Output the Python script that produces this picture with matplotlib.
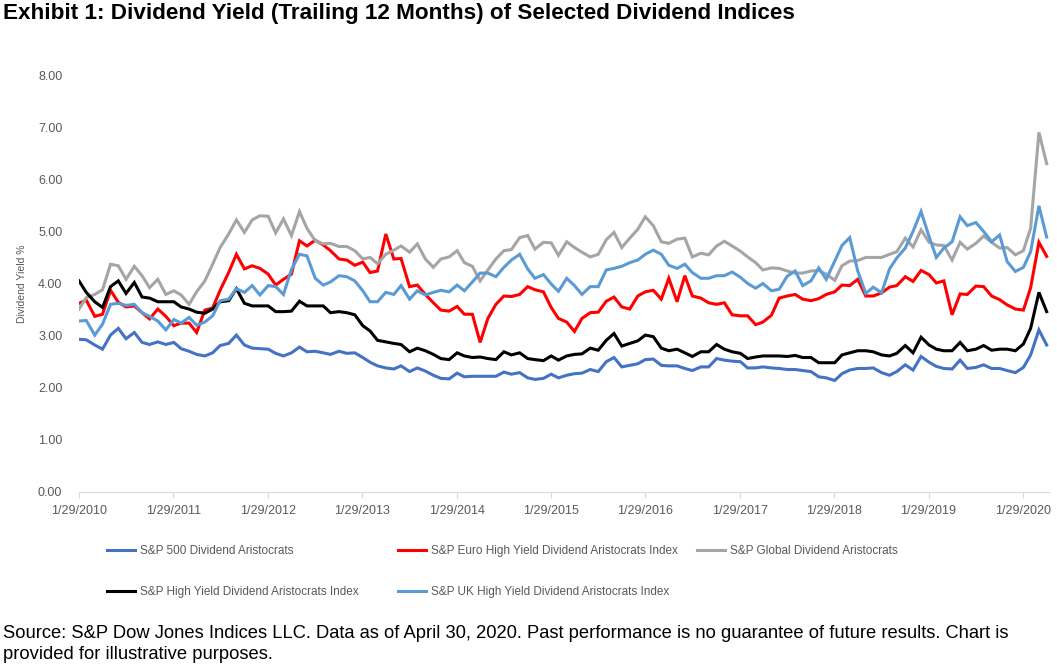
import pandas as pd
import matplotlib
matplotlib.use('Agg')
from matplotlib import pyplot as plt

plt.rcParams['font.family'] = ['Liberation Sans', 'DejaVu Sans']

# month-end dates, Jan 2010 .. Apr 2020
dates = pd.date_range('2010-01-29', '2020-04-30', freq='BME')

sp500_aristocrats = [
    2.93, 2.92, 2.82, 2.74, 3.01, 3.14, 2.94, 3.06, 2.87, 2.83, 2.88, 2.83, 2.87, 2.75, 2.70, 2.64, 2.61, 2.67, 2.81, 2.85,
    3.01, 2.82, 2.76, 2.75, 2.74, 2.66, 2.61, 2.67, 2.78,
    2.69, 2.70, 2.67, 2.64, 2.70, 2.66, 2.67, 2.58, 2.49, 2.42, 2.38, 2.36, 2.42, 2.31, 2.38, 2.32, 2.24, 2.18, 2.17, 2.28,
    2.21, 2.22, 2.22, 2.22, 2.22, 2.30, 2.26, 2.29, 2.19, 2.16,
    2.18, 2.26, 2.19, 2.24, 2.27, 2.28, 2.35, 2.31, 2.50, 2.58, 2.40, 2.43, 2.46, 2.54, 2.55, 2.43, 2.42, 2.42, 2.37, 2.33,
    2.40, 2.40, 2.56, 2.53, 2.51, 2.50, 2.38, 2.38, 2.40, 2.38, 2.37,
    2.35, 2.35, 2.33, 2.31, 2.21, 2.19, 2.14, 2.27, 2.34, 2.37, 2.37, 2.38,
    2.29, 2.24, 2.31, 2.44, 2.34, 2.60, 2.49, 2.41, 2.37, 2.36, 2.53, 2.37, 2.39, 2.44, 2.37, 2.37, 2.33, 2.29, 2.39, 2.63,
    3.11, 2.82]

euro_high_yield = [
    3.62, 3.68, 3.37, 3.41, 3.87, 3.64, 3.55, 3.57, 3.44, 3.32, 3.51, 3.37, 3.19, 3.24, 3.24, 3.06, 3.49, 3.53, 3.87, 4.21,
    4.56, 4.28, 4.34, 4.29, 4.18, 3.97, 4.08, 4.18, 4.82,
    4.72, 4.83, 4.74, 4.63, 4.47, 4.45, 4.35, 4.41, 4.21, 4.24, 4.95, 4.47, 4.48, 3.94, 3.97, 3.79, 3.63, 3.49, 3.47, 3.56,
    3.41, 3.41, 2.87, 3.33, 3.60, 3.76, 3.75, 3.79, 3.94, 3.88,
    3.84, 3.54, 3.33, 3.26, 3.08, 3.33, 3.44, 3.45, 3.66, 3.74, 3.55, 3.51, 3.76, 3.84, 3.87, 3.70, 4.10, 3.65, 4.15, 3.76,
    3.72, 3.63, 3.60, 3.63, 3.40, 3.38, 3.38, 3.21, 3.26, 3.39, 3.72,
    3.76, 3.79, 3.70, 3.67, 3.71, 3.79, 3.84, 3.97, 3.96, 4.08, 3.76, 3.76,
    3.82, 3.93, 3.96, 4.13, 4.04, 4.25, 4.17, 4.01, 4.05, 3.40, 3.80, 3.79, 3.95, 3.94, 3.76, 3.69, 3.59, 3.51, 3.49, 3.92,
    4.79, 4.52]

global_aristocrats = [
    3.51, 3.73, 3.79, 3.88, 4.37, 4.34, 4.08, 4.33, 4.15, 3.92, 4.08, 3.79, 3.86, 3.78, 3.60, 3.84, 4.05, 4.37, 4.69, 4.95,
    5.22, 4.98, 5.22, 5.30, 5.29, 4.97, 5.24, 4.92, 5.38,
    5.06, 4.82, 4.76, 4.77, 4.71, 4.71, 4.63, 4.47, 4.50, 4.38, 4.56, 4.64, 4.72, 4.60, 4.76, 4.47, 4.31, 4.47, 4.51, 4.63,
    4.40, 4.33, 4.05, 4.26, 4.47, 4.63, 4.65, 4.88, 4.92, 4.66,
    4.79, 4.78, 4.54, 4.80, 4.69, 4.60, 4.51, 4.56, 4.84, 4.98, 4.69, 4.87, 5.04, 5.28, 5.11, 4.80, 4.77, 4.85, 4.87, 4.51,
    4.58, 4.55, 4.72, 4.81, 4.72, 4.62, 4.51, 4.40, 4.26, 4.30, 4.29,
    4.24, 4.20, 4.20, 4.24, 4.25, 4.18, 4.06, 4.34, 4.43, 4.44, 4.50, 4.50,
    4.50, 4.56, 4.61, 4.87, 4.70, 5.03, 4.79, 4.74, 4.73, 4.45, 4.79, 4.66, 4.77, 4.91, 4.79, 4.68, 4.69, 4.55, 4.63, 5.06,
    6.90, 6.30]

high_yield_aristocrats = [
    4.05, 3.83, 3.65, 3.54, 3.94, 4.05, 3.81, 4.02, 3.74, 3.72, 3.65, 3.65, 3.65, 3.55, 3.51, 3.45, 3.43, 3.51, 3.65, 3.67,
    3.90, 3.62, 3.57, 3.57, 3.57, 3.46, 3.46, 3.47, 3.66,
    3.57, 3.57, 3.57, 3.44, 3.46, 3.44, 3.40, 3.19, 3.09, 2.91, 2.88, 2.85, 2.83, 2.69, 2.76, 2.71, 2.64, 2.56, 2.54, 2.67,
    2.61, 2.58, 2.59, 2.56, 2.54, 2.69, 2.63, 2.67, 2.56, 2.54,
    2.52, 2.61, 2.53, 2.61, 2.64, 2.65, 2.76, 2.72, 2.91, 3.04, 2.80, 2.85, 2.90, 3.01, 2.98, 2.76, 2.71, 2.74, 2.67, 2.60,
    2.69, 2.69, 2.83, 2.74, 2.69, 2.66, 2.56, 2.59, 2.61, 2.61, 2.61,
    2.60, 2.62, 2.58, 2.58, 2.48, 2.48, 2.48, 2.63, 2.67, 2.71, 2.71, 2.69,
    2.63, 2.61, 2.66, 2.81, 2.67, 2.97, 2.82, 2.74, 2.71, 2.71, 2.87, 2.71, 2.74, 2.81, 2.72, 2.74, 2.74, 2.71, 2.84, 3.14,
    3.83, 3.46]

uk_high_yield = [
    3.28, 3.29, 3.01, 3.22, 3.60, 3.62, 3.58, 3.60, 3.44, 3.37, 3.28, 3.11, 3.31, 3.24, 3.35, 3.20, 3.26, 3.38, 3.67, 3.70,
    3.90, 3.83, 3.96, 3.78, 3.96, 3.94, 3.79, 4.27, 4.56,
    4.53, 4.10, 3.97, 4.03, 4.15, 4.13, 4.05, 3.86, 3.65, 3.65, 3.83, 3.79, 3.96, 3.70, 3.86, 3.78, 3.83, 3.87, 3.84, 3.97,
    3.86, 4.03, 4.20, 4.20, 4.13, 4.31, 4.45, 4.56, 4.28, 4.10,
    4.17, 3.99, 3.85, 4.10, 3.96, 3.79, 3.94, 3.94, 4.26, 4.29, 4.33, 4.40, 4.45, 4.56, 4.64, 4.56, 4.35, 4.29, 4.37, 4.21,
    4.10, 4.10, 4.15, 4.15, 4.22, 4.12, 4.00, 3.91, 4.00, 3.86, 3.89,
    4.14, 4.24, 3.96, 4.05, 4.30, 4.08, 4.43, 4.73, 4.88, 4.24, 3.81, 3.93,
    3.82, 4.28, 4.49, 4.68, 5.00, 5.38, 4.90, 4.50, 4.68, 4.80, 5.28, 5.11, 5.17, 5.00, 4.80, 4.93, 4.42, 4.23, 4.31, 4.61,
    5.49, 4.89]

series_names = ['S&P 500 Dividend Aristocrats',
                'S&P Euro High Yield Dividend Aristocrats Index',
                'S&P Global Dividend Aristocrats',
                'S&P High Yield Dividend Aristocrats Index',
                'S&P UK High Yield Dividend Aristocrats Index']
series_colors = ['#4472C4', '#FF0000', '#A5A5A5', '#000000', '#5B9BD5']
series_values = [sp500_aristocrats, euro_high_yield, global_aristocrats,
                 high_yield_aristocrats, uk_high_yield]

tick_dates = pd.to_datetime(['2010-01-29', '2011-01-29', '2012-01-29', '2013-01-29', '2014-01-29', '2015-01-29',
                             '2016-01-29', '2017-01-29', '2018-01-29', '2019-01-29', '2020-01-29'])
tick_labels = ['1/29/2010', '1/29/2011', '1/29/2012', '1/29/2013', '1/29/2014', '1/29/2015',
               '1/29/2016', '1/29/2017', '1/29/2018', '1/29/2019', '1/29/2020']
y_ticks = [0, 1, 2, 3, 4, 5, 6, 7, 8]

grey = '#595959'

fig = plt.figure(figsize=(10.57, 6.67), dpi=100)
ax = fig.add_axes([79/1057, 1 - 492/667, (1049 - 79)/1057, (492 - 75)/667])

handles = []
for name, color, vals in zip(series_names, series_colors, series_values):
    h, = ax.plot(dates, vals, color=color, lw=2.2, label=name, solid_joinstyle='miter')
    handles.append(h)

ax.set_xlim(pd.Timestamp('2010-01-29'), pd.Timestamp('2020-05-09'))
ax.set_ylim(0, 8)
ax.set_yticks(y_ticks)
ax.set_yticklabels(['%.2f' % v for v in y_ticks])
ax.set_xticks(tick_dates)
ax.set_xticklabels(tick_labels)
ax.tick_params(axis='y', length=0, pad=12, labelsize=9, labelcolor=grey)
ax.tick_params(axis='x', length=4, width=0.8, color='#D9D9D9', pad=5, labelsize=9, labelcolor=grey)
for s in ['top', 'right', 'left']:
    ax.spines[s].set_visible(False)
ax.spines['bottom'].set_color('#D9D9D9')
ax.spines['bottom'].set_linewidth(0.8)
ax.set_ylabel('Dividend Yield %', fontsize=7.5, color=grey, labelpad=8)

fig.text(0.003, 1 - 19.5/667, 'Exhibit 1: Dividend Yield (Trailing 12 Months) of Selected Dividend Indices',
         fontsize=16.2, fontweight='bold', va='baseline', ha='left')

# legend, laid out in Excel-style columns
columns = [([0, 3], 107), ([1, 4], 398), ([2], 697)]
for idx, xpx in columns:
    leg = fig.legend([handles[i] for i in idx], [series_names[i] for i in idx],
                     loc='upper left', bbox_to_anchor=(xpx/1057, 1 - 545/667),
                     frameon=False, fontsize=8.5, labelcolor=grey, handlelength=2.4,
                     handletextpad=0.4, borderpad=0, borderaxespad=0, labelspacing=2.45)

fig.text(0.003, 1 - 659/667,
         'Source: S&P Dow Jones Indices LLC. Data as of April 30, 2020. Past performance is no guarantee of future results. Chart is\nprovided for illustrative purposes.',
         fontsize=13.2, va='baseline', ha='left', linespacing=1.28)

fig.savefig('out.png', dpi=100)
